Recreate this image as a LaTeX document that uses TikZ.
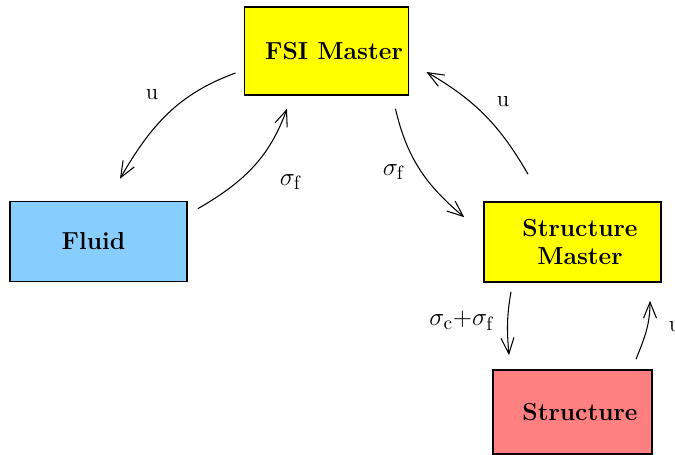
\documentclass[tikz,border=0pt]{standalone}
\usepackage{xcolor}
\definecolor{fsiYellow}{HTML}{FFFF00}
\definecolor{fluidBlue}{HTML}{87CEFF}
\definecolor{solidRed}{HTML}{FF8080}
\usepackage{tikz}
\usetikzlibrary{positioning,arrows.meta,calc}
\usepackage{amsmath}

\begin{document}
\begin{tikzpicture}[
      x=0.02cm, y=-0.02cm,
      every node/.style={font=\fontsize{13}{15}\selectfont},
      solver/.style={rectangle,draw=black,line width=0.9pt,
                     minimum width=3.54cm,minimum height=1.6cm,
                     align=center,font=\fontsize{14}{15.5}\selectfont\bfseries},
      arr/.style={-{Straight Barb[length=3.2mm,width=2.6mm]},line width=0.6pt},
      tag/.style={inner sep=1pt},
      flux/.style={inner sep=1pt,font=\fontsize{15}{17}\selectfont},
    ]
    \useasboundingbox (0,0) rectangle (675,455);

    % Top: the FSI master
    \node[solver,fill=fsiYellow,minimum width=3.26cm,minimum height=1.76cm]
        (fsi) at (326.5,51) {\hspace*{3mm}FSI Master};

    % Left: fluid solver
    \node[solver,fill=fluidBlue] (fluid) at (98.5,241.5) {Fluid\hspace*{2mm}};

    % Right: structure master
    \node[solver,fill=fsiYellow] (smaster) at (572.5,242)
        {\hspace*{3mm}Structure\\ \hspace*{3mm}Master};

    % Bottom right: structure solver
    \node[solver,fill=solidRed,minimum width=3.18cm,minimum height=1.68cm]
        (struct) at (572.5,412) {\hspace*{3mm}Structure};

    % Master <-> fluid
    \draw[arr] ($(fsi.west)+(-8,22)$) to[out=200,in=60]
        ($(fluid.north)+(21.5,-22)$);
    \draw[arr] ($(fluid.north east)+(10,8)$) to[out=30,in=250]
        ($(fsi.south)+(-39.5,13)$);
    \node[tag] (uF) at (152,95) {u};
    \node[flux] (sF) at (291,182) {$\sigma_{\mathrm{f}}$};

    % Master <-> structure master
    \draw[arr] ($(fsi.south east)+(-14,13)$) to[out=-77,in=140]
        ($(smaster.north west)+(-19,16)$);
    \draw[arr] ($(smaster.north)+(-44.5,-27)$) to[out=120,in=-30]
        ($(fsi.east)+(17,21)$);
    \node[flux] (sS) at (394,172) {$\sigma_{\mathrm{f}}$};
    \node[tag] (uS) at (503,102) {u};

    % Structure master <-> structure
    \draw[arr] ($(smaster.south)+(-61.5,9)$) to[out=-100,in=95]
        ($(struct.north)+(-63.5,-14)$);
    \draw[arr] ($(struct.north)+(63.5,-10)$) to[out=68,in=-90]
        ($(smaster.south)+(77.5,18)$);
    \node[flux] (sC) at (462,321) {$\sigma_{\mathrm{c}}{+}\sigma_{\mathrm{f}}$};
    \node[tag] (uC) at (675,327) {u};

  \end{tikzpicture}
\end{document}
